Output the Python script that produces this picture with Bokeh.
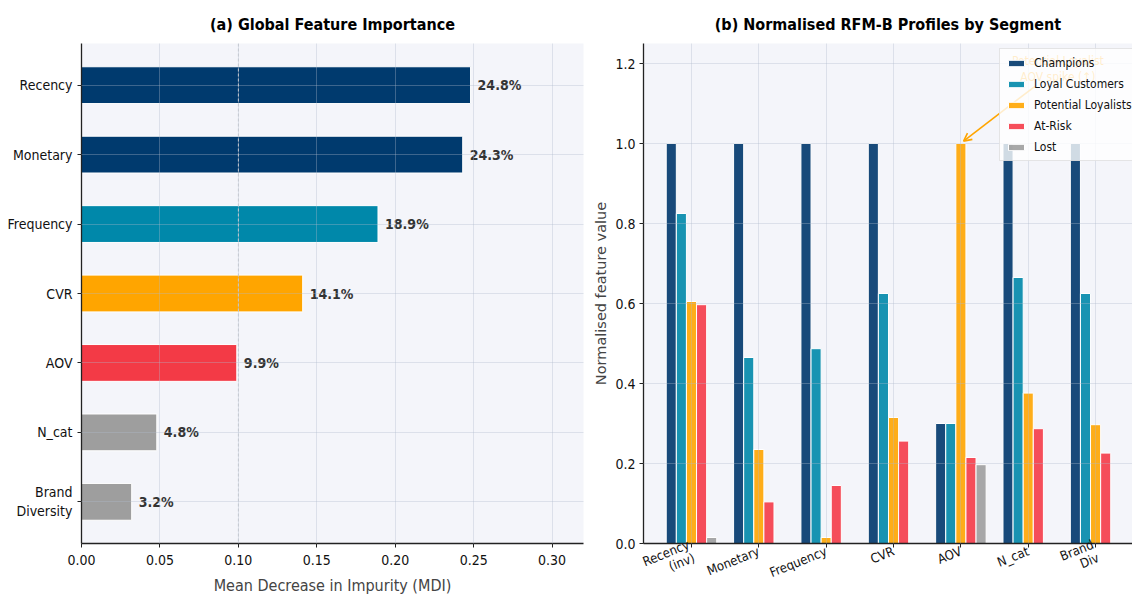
import math

from bokeh.core.properties import value
from bokeh.embed import file_html
from bokeh.layouts import row
from bokeh.models import (Arrow, ColumnDataSource, FactorRange, FixedTicker, Label,
                          Legend, LegendItem, NumeralTickFormatter, OpenHead, Range1d, Span)
from bokeh.plotting import figure
from bokeh.resources import INLINE

# ---------------- data ----------------
features = ["Recency", "Monetary", "Frequency", "CVR", "AOV", "N_cat", "Brand\nDiversity"]
importance = [0.248, 0.243, 0.189, 0.141, 0.099, 0.048, 0.032]
feature_colors = ["#003a6e", "#003a6e", "#0088aa", "#ffa500", "#f33a46", "#9e9e9e", "#9e9e9e"]
importance_ticks = [0.0, 0.05, 0.10, 0.15, 0.20, 0.25, 0.30]

profile_features = ["Recency\n(inv)", "Monetary", "Frequency", "CVR", "AOV", "N_cat", "Brand\nDiv"]
segments = ["Champions", "Loyal Customers", "Potential Loyalists", "At-Risk", "Lost"]
segment_colors = ["#00376b", "#0088aa", "#ffa500", "#f53b48", "#9e9e9e"]
champions = [1.00, 1.00, 1.00, 1.00, 0.30, 1.00, 1.00]
loyal_customers = [0.825, 0.465, 0.487, 0.625, 0.30, 0.665, 0.625]
potential_loyalists = [0.605, 0.235, 0.015, 0.315, 1.00, 0.376, 0.297]
at_risk = [0.597, 0.104, 0.145, 0.256, 0.215, 0.287, 0.226]
lost = [0.015, 0.0, 0.0, 0.0, 0.197, 0.0, 0.0]
profile_ticks = [0.0, 0.2, 0.4, 0.6, 0.8, 1.0, 1.2]

FONT = "DejaVu Sans Condensed"
BG = "#f4f5fa"
GRID = "#aebbcc"
INK = "#222222"


def style_axes(p):
    p.outline_line_color = None
    p.background_fill_color = BG
    p.border_fill_color = "white"
    for ax in (p.xaxis, p.yaxis):
        ax.axis_line_color = INK
        ax.axis_line_width = 1.3
        ax.major_tick_line_color = INK
        ax.major_tick_out = 4
        ax.major_tick_in = 0
        ax.minor_tick_line_color = None
        ax.major_label_text_font = FONT
        ax.major_label_text_font_size = "14px"
        ax.major_label_text_color = "#111111"
        ax.axis_label_text_font_style = "normal"
    for g in (p.xgrid, p.ygrid):
        g.grid_line_color = GRID
        g.grid_line_alpha = 0.35
        g.grid_line_width = 1
        g.level = "guide"
    p.title.text_font = FONT
    p.title.text_font_size = "16px"
    p.title.text_font_style = "bold"
    p.title.align = "center"
    p.title.text_color = "#000000"
    p.title.standoff = 20


# ---------------- (a) feature importance ----------------
y_factors = list(reversed(features))
p1 = figure(
    width=590, height=599,
    min_border_left=81, min_border_right=7, min_border_top=43, min_border_bottom=53,
    y_range=FactorRange(*y_factors, range_padding=0.1, range_padding_units="absolute"),
    x_range=Range1d(0, 0.32),
    title="(a) Global Feature Importance",
    toolbar_location=None, output_backend="svg",
)
style_axes(p1)

imp_src = ColumnDataSource(dict(
    feature=features,
    value=importance,
    color=feature_colors,
    label_x=[v + 0.0045 for v in importance],
    label=[f"{v * 100:.1f}%" for v in importance],
))
p1.hbar(y="feature", right="value", left=0, height=0.53, source=imp_src,
        fill_color="color", line_color="white", line_width=1)
p1.text(x="label_x", y="feature", text="label", source=imp_src,
        text_font=value(FONT), text_font_size="14px", text_font_style="bold",
        text_color="#333333", text_baseline="middle", text_align="left")
p1.add_layout(Span(location=0.10, dimension="height", line_color="#c4c8d0",
                   line_dash="3 2", line_width=1))

p1.xaxis.ticker = FixedTicker(ticks=importance_ticks)
p1.xaxis.formatter = NumeralTickFormatter(format="0.00")
p1.xaxis.major_label_standoff = 7
p1.xaxis.axis_label = "Mean Decrease in Impurity (MDI)"
p1.xaxis.axis_label_text_font = FONT
p1.xaxis.axis_label_text_font_size = "16px"
p1.xaxis.axis_label_standoff = 8
p1.yaxis.major_label_text_align = "right"

# ---------------- (b) RFM-B profiles ----------------
p2 = figure(
    width=542, height=599,
    min_border_left=52, min_border_right=0, min_border_top=43, min_border_bottom=53,
    x_range=Range1d(-0.7125, 6.548),
    y_range=Range1d(0, 1.25),
    title="(b) Normalised RFM-B Profiles by Segment",
    toolbar_location=None, output_backend="svg",
)
style_axes(p2)

bar_w = 0.15
series = [champions, loyal_customers, potential_loyalists, at_risk, lost]
items = []
for k, (name, vals, col) in enumerate(zip(segments, series, segment_colors)):
    offset = (k - (len(segments) - 1) / 2) * bar_w
    src = ColumnDataSource(dict(x=[i + offset for i in range(len(vals))], top=vals))
    r = p2.vbar(x="x", top="top", bottom=0, width=bar_w, source=src,
                fill_color=col, fill_alpha=0.9, line_color="white", line_width=1)
    items.append(LegendItem(label=name, renderers=[r]))

p2.xaxis.ticker = FixedTicker(ticks=list(range(len(profile_features))))
p2.xaxis.major_label_overrides = {i: f for i, f in enumerate(profile_features)}
p2.xaxis.major_label_orientation = math.radians(22)
p2.xaxis.major_label_standoff = 3
p2.xaxis.major_label_text_font_size = "13px"
p2.xaxis.major_label_text_line_height = 0.95
p2.yaxis.ticker = FixedTicker(ticks=profile_ticks)
p2.yaxis.formatter = NumeralTickFormatter(format="0.0")
p2.yaxis.major_label_standoff = 4
p2.yaxis.axis_label = "Normalised feature value"
p2.yaxis.axis_label_text_font = "DejaVu Sans"
p2.yaxis.axis_label_text_font_size = "14.5px"
p2.yaxis.axis_label_standoff = 3

# callout on the AOV spike of Potential Loyalists
aov_idx = profile_features.index("AOV")
p2.add_layout(Label(x=aov_idx + 1.44, y=1.186, text="Potential Loyalist\nAOV spike (↑)",
                    text_align="center", text_baseline="middle",
                    text_font=FONT, text_font_size="12px", text_color="#ffa500"))
p2.add_layout(Arrow(x_start=aov_idx + 1.1, y_start=1.143,
                    x_end=aov_idx + 0.04, y_end=potential_loyalists[aov_idx] + 0.006,
                    line_color="#ffa500", line_width=1.6,
                    end=OpenHead(size=8, line_color="#ffa500", line_width=1.6)))

legend = Legend(items=items, location=(356, 382), orientation="vertical",
                label_text_font=FONT, label_text_font_size="12px", label_text_color="#111111",
                glyph_width=20, glyph_height=8, label_height=15, spacing=6,
                label_standoff=8, padding=6, margin=0,
                border_line_color="#cccccc", border_line_width=1,
                background_fill_color="white", background_fill_alpha=0.8)
p2.add_layout(legend)

layout = row(p1, p2)
open("out.html", "w").write(file_html(layout, INLINE))
